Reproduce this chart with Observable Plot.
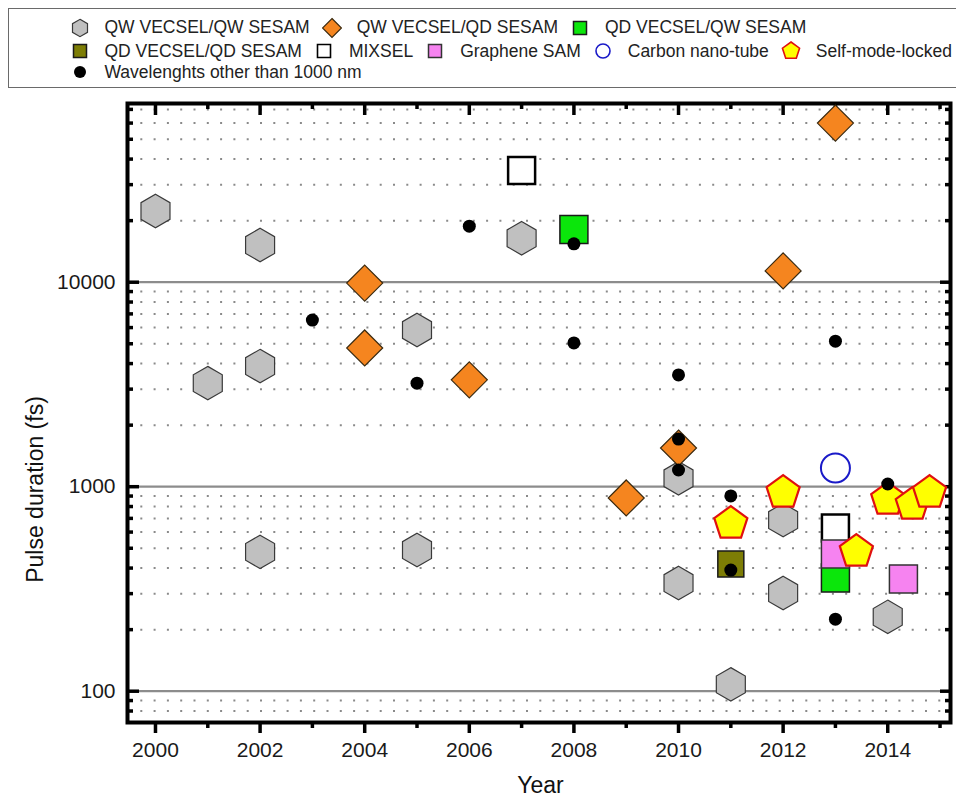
<!DOCTYPE html>
<html>
<head>
<meta charset="utf-8">
<script src="https://cdn.jsdelivr.net/npm/d3@7"></script>
<script src="https://cdn.jsdelivr.net/npm/@observablehq/plot@0.6"></script>
<style>
  body { margin: 0; background: #fff; font-family: Arial, "Liberation Sans", sans-serif; }
  #wrap { position: relative; width: 956px; height: 801px; overflow: hidden; background: #fff; }
  #legend { position: absolute; left: 8px; top: 8px; width: 1000px; height: 80px;
            border: 1.5px solid #6a6a6a; box-sizing: border-box; }
  .row { position: absolute; left: 60.5px; height: 22px; display: flex; align-items: center;
         font-size: 17.5px; color: #222; white-space: nowrap; }
  .item { display: flex; align-items: center; margin-right: 12px; }
  .item svg { width: 20px; height: 22px; margin-right: 15px; flex: none; }
  #chart { position: absolute; left: 0; top: 90px; }
</style>
</head>
<body>
<div id="wrap">
  <div id="legend"></div>
  <div id="chart"></div>
</div>
<script>
// ---- Pulse duration (fs) by year, one pair of arrays per laser type ----
const qwQwYear = [2000, 2001, 2002, 2002, 2002, 2005, 2005, 2007, 2010, 2010, 2011, 2012, 2012, 2014];
const qwQwFs   = [22300, 3210, 15200, 3890, 480, 5840, 490, 16400, 1100, 338, 108, 687, 302, 231];

const qwQdYear = [2004, 2004, 2006, 2009, 2010, 2012, 2013];
const qwQdFs   = [9900, 4770, 3330, 881, 1546, 11360, 60000];

const qdQwYear = [2008, 2013];
const qdQwFs   = [18100, 358];

const qdQdYear = [2011];
const qdQdFs   = [419];

const mixselYear = [2007, 2013];
const mixselFs   = [35200, 628];

const grapheneYear = [2013, 2014.3];
const grapheneFs   = [469, 354];

const cntYear = [2013];
const cntFs   = [1234];

const smlYear = [2011, 2012, 2013.4, 2014, 2014.47, 2014.8];
const smlFs   = [661, 936, 482, 865, 818, 936];

const otherWlYear = [2003, 2005, 2006, 2008, 2008, 2010, 2010, 2010, 2011, 2011, 2013, 2013, 2014];
const otherWlFs   = [6530, 3210, 18800, 15400, 5050, 3520, 1710, 1207, 901, 391, 5150, 225, 1031];

// ---- axis ticks ----
const yearLabels = [2000, 2002, 2004, 2006, 2008, 2010, 2012, 2014];
const yearMinor  = [2001, 2003, 2005, 2007, 2009, 2011, 2013, 2015];
const yMajor = [100, 1000, 10000];
const yMinor = [80, 90, 200, 300, 400, 500, 600, 700, 800, 900,
                2000, 3000, 4000, 5000, 6000, 7000, 8000, 9000,
                20000, 30000, 40000, 50000, 60000, 70000];

const xTitle = "Year";
const yTitle = "Pulse duration (fs)";
const legendLabels = ["QW VECSEL/QW SESAM", "QW VECSEL/QD SESAM", "QD VECSEL/QW SESAM",
                      "QD VECSEL/QD SESAM", "MIXSEL", "Graphene SAM", "Carbon nano-tube", "Self-mode-locked",
                      "Wavelenghts other than 1000 nm"];

// ---- marker shapes (size = pi * r^2, as Plot passes it) ----
const rOf = size => Math.sqrt(size / Math.PI);
const hexagon = { draw(c, s) { const r = rOf(s), ry = r * 2 / Math.sqrt(3);
  c.moveTo(0, -ry); c.lineTo(r, -ry / 2); c.lineTo(r, ry / 2); c.lineTo(0, ry);
  c.lineTo(-r, ry / 2); c.lineTo(-r, -ry / 2); c.closePath(); } };
const diamond = { draw(c, s) { const r = rOf(s);
  c.moveTo(0, -r); c.lineTo(r, 0); c.lineTo(0, r); c.lineTo(-r, 0); c.closePath(); } };
const square = { draw(c, s) { const r = rOf(s); c.rect(-r, -r, 2 * r, 2 * r); } };
const circle = { draw(c, s) { const r = rOf(s); c.moveTo(r, 0); c.arc(0, 0, r, 0, 2 * Math.PI); } };
const pentagon = { draw(c, s) { const r = rOf(s);
  for (let i = 0; i < 5; i++) { const a = -Math.PI / 2 + i * 2 * Math.PI / 5;
    const x = r * Math.cos(a), y = r * Math.sin(a); i ? c.lineTo(x, y) : c.moveTo(x, y); }
  c.closePath(); } };

const styles = {
  qwqw:  { symbol: hexagon,  r: 14.5, fill: "#c0c0c0", stroke: "#3a3a3a", strokeWidth: 1.2 },
  qwqd:  { symbol: diamond,  r: 18,   fill: "#f5851f", stroke: "#3a2a10", strokeWidth: 1.2 },
  qdqw:  { symbol: square,   r: 14,   fill: "#0be60b", stroke: "#1a1a1a", strokeWidth: 1.5 },
  qdqd:  { symbol: square,   r: 13,   fill: "#7d7d05", stroke: "#1a1a1a", strokeWidth: 1.5 },
  mix:   { symbol: square,   r: 13.5, fill: "#ffffff", stroke: "#000000", strokeWidth: 2.5 },
  graph: { symbol: square,   r: 14,   fill: "#f683f0", stroke: "#333333", strokeWidth: 1.5 },
  cnt:   { symbol: circle,   r: 14.5, fill: "none",    stroke: "#1a1ac8", strokeWidth: 2 },
  sml:   { symbol: pentagon, r: 17.4, fill: "#ffff00", stroke: "#e01010", strokeWidth: 2.2 },
  other: { symbol: circle,   r: 6.5,  fill: "#000000", stroke: "none",    strokeWidth: 0 }
};

// ---- legend ----
function icon(st, r) {
  const p = d3.path(); st.symbol.draw(p, Math.PI * r * r);
  return `<svg viewBox="-10 -11 20 22"><path d="${p}" fill="${st.fill}" stroke="${st.stroke}" stroke-width="${Math.min(st.strokeWidth, 1.6)}"/></svg>`;
}
const legendRows = [
  [[styles.qwqw, 7.5], [styles.qwqd, 9.5], [styles.qdqw, 6.5]],
  [[styles.qdqd, 6.5], [styles.mix, 6.5], [styles.graph, 6.5], [styles.cnt, 7], [styles.sml, 9]],
  [[styles.other, 6]]
];
const rowTops = [7.5, 31, 52];
let k = 0;
const legend = document.getElementById("legend");
legendRows.forEach((row, ri) => {
  const div = document.createElement("div");
  div.className = "row";
  div.style.top = rowTops[ri] + "px";
  div.innerHTML = row.map(([st, r]) =>
    `<span class="item">${icon(st, r)}<span>${legendLabels[k++]}</span></span>`).join("");
  legend.appendChild(div);
});

// ---- chart ----
const W = 956, H = 711, mL = 127, mR = 6, mT = 13, mB = 79;
const pw = W - mL - mR, ph = H - mT - mB;

const series = (years, vals, st) => Plot.dot(vals, { x: years, y: vals, ...st });

const chart = Plot.plot({
  width: W, height: H,
  marginLeft: mL, marginRight: mR, marginTop: mT, marginBottom: mB,
  style: { fontFamily: "Arial, 'Liberation Sans', sans-serif", fontSize: "21px", color: "#1a1a1a", background: "#fff" },
  x: { domain: [1999.465, 2015.2], axis: null },
  y: { type: "log", domain: [70.3, 74800], axis: null },
  marks: [
    Plot.ruleY(yMinor, { y: d => d, stroke: "#8a8a8a", strokeWidth: 2, strokeDasharray: "2,11.3" }),
    Plot.ruleY(yMajor, { y: d => d, stroke: "#8c8c8c", strokeWidth: 2.2 }),
    // inward ticks: left, right, top
    Plot.tickY(yMajor, { y: d => d, insetRight: pw - 12, stroke: "#000", strokeWidth: 3.5 }),
    Plot.tickY(yMinor, { y: d => d, insetRight: pw - 6, stroke: "#000", strokeWidth: 3.5 }),
    Plot.tickY(yMajor, { y: d => d, insetLeft: pw - 10, stroke: "#000", strokeWidth: 3.5 }),
    Plot.tickY(yMinor, { y: d => d, insetLeft: pw - 5, stroke: "#000", strokeWidth: 3.5 }),
    Plot.tickX(yearLabels, { x: d => d, insetBottom: ph - 12, stroke: "#000", strokeWidth: 3.5 }),
    Plot.tickX(yearMinor, { x: d => d, insetBottom: ph - 6, stroke: "#000", strokeWidth: 3.5 }),
    // outward ticks: bottom
    Plot.tickX(yearLabels, { x: d => d, insetTop: ph, insetBottom: -11, stroke: "#000", strokeWidth: 3.5 }),
    Plot.tickX(yearMinor, { x: d => d, insetTop: ph, insetBottom: -6, stroke: "#000", strokeWidth: 3.5 }),
    Plot.frame({ stroke: "#000", strokeWidth: 4 }),
    Plot.axisX(yearLabels, { tickSize: 0, tickPadding: 20, tickFormat: d => String(d), label: null }),
    Plot.axisY(yMajor, { anchor: "left", tickSize: 0, tickPadding: 12, tickFormat: d3.format("d"), label: null }),
    // data
    series(qwQwYear, qwQwFs, styles.qwqw),
    series(qwQdYear, qwQdFs, styles.qwqd),
    series(qdQwYear, qdQwFs, styles.qdqw),
    series(qdQdYear, qdQdFs, styles.qdqd),
    series(mixselYear, mixselFs, styles.mix),
    series(grapheneYear, grapheneFs, styles.graph),
    series(cntYear, cntFs, styles.cnt),
    series(smlYear, smlFs, styles.sml),
    series(otherWlYear, otherWlFs, styles.other)
  ]
});

// axis titles
const svg = d3.select(chart);
svg.append("text")
  .attr("transform", `translate(${(mL + W - mR) / 2 + 2},${H - 8})`)
  .attr("text-anchor", "middle")
  .attr("font-size", 23).attr("fill", "#111")
  .text(xTitle);
svg.append("text")
  .attr("transform", `translate(43,${mT + ph / 2 + 77}) rotate(-90)`)
  .attr("text-anchor", "middle")
  .attr("font-size", 23).attr("fill", "#111")
  .text(yTitle);

document.getElementById("chart").appendChild(chart);
</script>
</body>
</html>
